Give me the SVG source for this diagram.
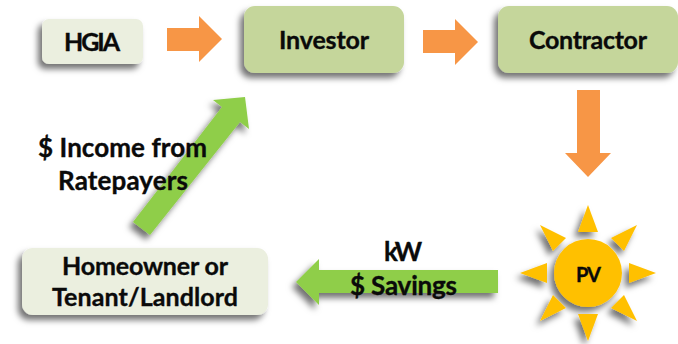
<svg xmlns="http://www.w3.org/2000/svg" width="678" height="344" viewBox="0 0 678 344">
<style>
text{font-family:Lato,"Liberation Sans",sans-serif;font-weight:700;font-size:25px;fill:#0a0a0a;stroke:#0a0a0a;stroke-width:.35px;text-anchor:middle}
.big{font-size:26px}
.light{fill:#ebefdf}
.mid{fill:#c5d69b}
.orange{fill:#f79646}
.green{fill:#8fce49}
.sun{fill:#ffc000}
</style>
<defs>
<filter id="sh" x="-30%" y="-30%" width="160%" height="170%"><feDropShadow dx="-4" dy="5" stdDeviation="3" flood-color="#000" flood-opacity="0.55"/></filter>
</defs>
<g id="connectors">
<polygon class="orange" points="167,28 199,28 199,16 222,39 199,62 199,51 167,51"/>
<polygon class="orange" points="423,30 455,30 455,19 478,42 455,65 455,53 423,53"/>
<polygon class="orange" points="577,90 600,90 600,153 611,153 588,177 565,153 577,153"/>
<polygon class="green" filter="url(#sh)" points="133,222 222,107 213,100 245,97 249,129 240,122 150,235"/>
<polygon class="green" filter="url(#sh)" points="498,270 319,270 319,259 296,282 319,305 319,293 498,293"/>
</g>
<g id="hgia"><rect class="light" filter="url(#sh)" x="42" y="19" width="101" height="45" rx="7"/><text x="92" y="51" textLength="56">HGIA</text></g>
<g id="investor"><rect class="mid" filter="url(#sh)" x="244" y="6" width="160" height="67" rx="11"/><text x="324" y="49" textLength="90">Investor</text></g>
<g id="contractor"><rect class="mid" filter="url(#sh)" x="498" y="6" width="180" height="67" rx="11"/><text x="588" y="49" textLength="118">Contractor</text></g>
<g id="homeowner"><rect class="light" filter="url(#sh)" x="22" y="248" width="246" height="67" rx="11"/><text x="145" y="275" textLength="166">Homeowner or</text><text x="145" y="306" textLength="186">Tenant/Landlord</text></g>
<g id="pv">
<g filter="url(#sh)">
<circle class="sun" cx="588" cy="273" r="34"/>
<polygon class="sun" points="588,205 578,232 598,232"/>
<polygon class="sun" points="656,273 629,263 629,283"/>
<polygon class="sun" points="588,341 578,314 598,314"/>
<polygon class="sun" points="520,273 547,263 547,283"/>
<polygon class="sun" points="637,225 611,238 624,251"/>
<polygon class="sun" points="540,225 566,238 553,251"/>
<polygon class="sun" points="637,321 624,295 611,308"/>
<polygon class="sun" points="540,321 553,295 566,308"/>
</g>
<text x="588.5" y="282" style="font-size:20px" textLength="25">PV</text>
</g>
<g id="labels">
<text class="big" x="122.5" y="157" textLength="169">$ Income from</text>
<text class="big" x="123" y="190" textLength="130">Ratepayers</text>
<text class="big" x="403" y="261" textLength="38">kW</text>
<text class="big" x="403.5" y="295" textLength="107">$ Savings</text>
</g>
</svg>
